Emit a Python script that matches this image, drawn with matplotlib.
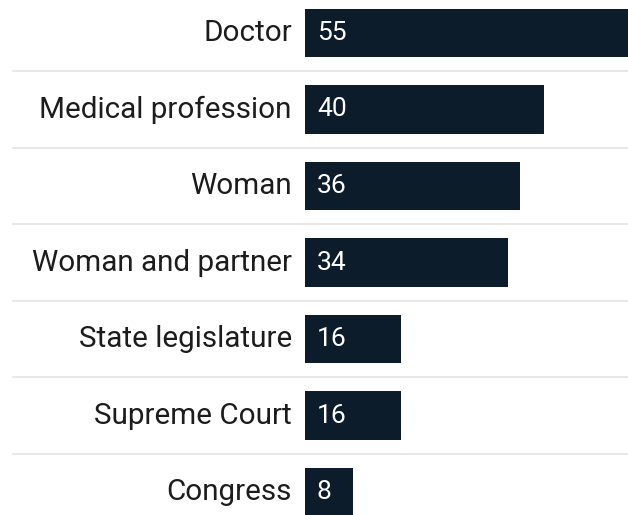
import numpy as np
import matplotlib.pyplot as plt

plt.rcParams["font.family"] = ["Roboto", "DejaVu Sans"]

categories = ["Doctor", "Medical profession", "Woman", "Woman and partner",
              "State legislature", "Supreme Court", "Congress"]
values = [55, 40, 36, 34, 16, 16, 8]

bar_color = "#0d1c2b"
grid_color = "#e3e3e3"

fig = plt.figure(figsize=(6.28, 5.15), dpi=100)
ax = fig.add_axes([0, 0, 1, 1])

y = np.arange(len(categories))
ax.barh(y, values, height=0.63, color=bar_color, left=0)

# separators between rows
for i in range(len(categories) - 1):
    ax.plot([-48.9, 60], [i + 0.5, i + 0.5], color=grid_color, lw=1.2, zorder=0)

for i, (c, v) in enumerate(zip(categories, values)):
    ax.text(-2.2, i, c, ha="right", va="center", fontsize=21.3, color="#1c1c1c")
    ax.text(2.0, i, str(v), ha="left", va="center", fontsize=19, color="white")

ax.set_xlim(-51.05, 54.06)
ax.set_ylim(6.30, -0.431)
ax.axis("off")

fig.savefig("out.png", dpi=100)
